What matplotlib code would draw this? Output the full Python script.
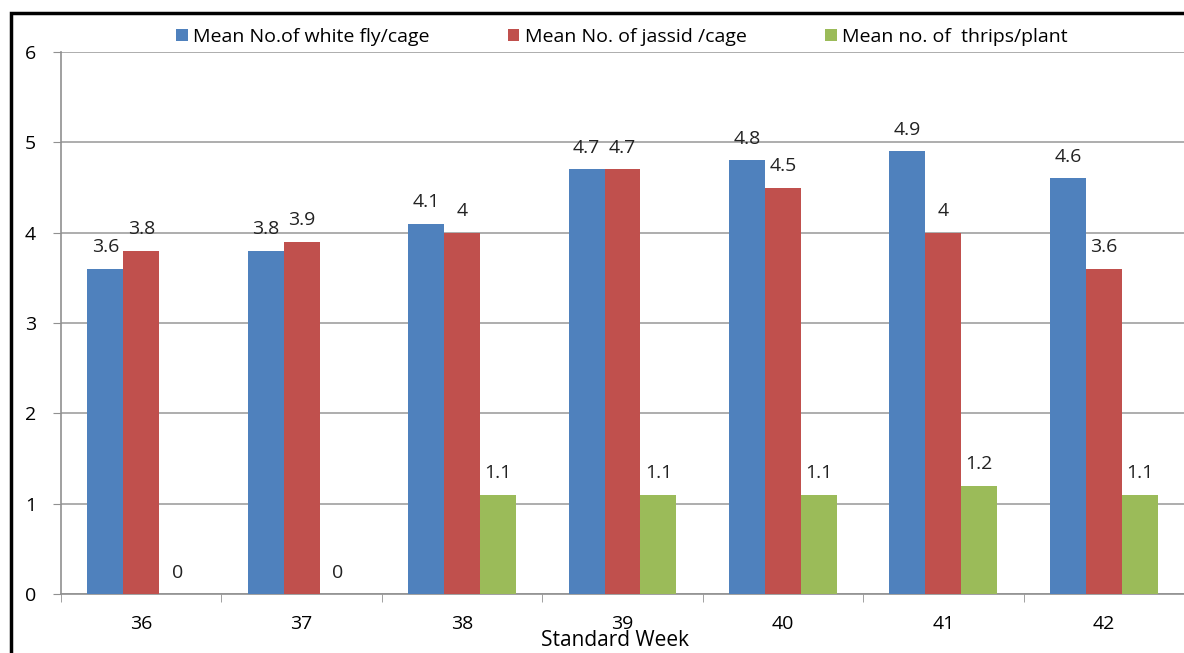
import matplotlib.pyplot as plt
import numpy as np
from matplotlib.patches import Rectangle

plt.rcParams['font.family'] = ['Open Sans', 'DejaVu Sans']

weeks = ['36', '37', '38', '39', '40', '41', '42']
white_fly = [3.6, 3.8, 4.1, 4.7, 4.8, 4.9, 4.6]
jassid = [3.8, 3.9, 4.0, 4.7, 4.5, 4.0, 3.6]
thrips = [0, 0, 1.1, 1.1, 1.1, 1.2, 1.1]

labels = ['Mean No.of white fly/cage', 'Mean No. of jassid /cage', 'Mean no. of  thrips/plant']
colors = ['#4F81BD', '#C0504D', '#9BBB59']

fig = plt.figure(figsize=(11.84, 6.53), dpi=100)
ax = fig.add_axes([61 / 1184, 59 / 653, 1123 / 1184, 542 / 653])

x = np.arange(len(weeks))
w = 0.224
series = [white_fly, jassid, thrips]
handles = []
for i, (vals, c, lab) in enumerate(zip(series, colors, labels)):
    pos = x + (i - 1) * w
    b = ax.bar(pos, vals, width=w, color=c, label=lab, zorder=3)
    handles.append(b)
    for px, v in zip(pos, vals):
        ax.annotate(f'{v:g}', (px, v), xytext=(0, 9), textcoords='offset points',
                    ha='center', va='bottom', fontsize=14, color='#222222')

ax.set_xlim(-0.5, len(weeks) - 0.5)
ax.set_ylim(0, 6)
ax.set_yticks(range(7))
ax.yaxis.grid(True, color='#a0a0a0', linewidth=1.2, zorder=0)
ax.set_axisbelow(True)

ax.set_xticks(x)
ax.set_xticklabels(weeks, fontsize=14)
ax.set_xticks(np.arange(-0.5, len(weeks)), minor=True)
ax.tick_params(axis='x', which='major', length=0, pad=15)
ax.tick_params(axis='x', which='minor', length=6, color='#909090', direction='out')
ax.tick_params(axis='y', length=6, color='#909090', pad=12, labelsize=14)

for s in ['top', 'right']:
    ax.spines[s].set_visible(False)
for s in ['left', 'bottom']:
    ax.spines[s].set_color('#909090')
    ax.spines[s].set_linewidth(1.2)

ax.set_xlabel('Standard Week', fontsize=15)
ax.xaxis.set_label_coords(0.493, -0.066)

fig.legend(handles=handles, labels=labels, loc='center', bbox_to_anchor=(622 / 1184, 1 - 37 / 653),
           ncol=3, frameon=False, fontsize=14, handlelength=0.6, handleheight=0.6,
           handletextpad=0.3, columnspacing=4.0)

fig.patches.append(Rectangle((11 / 1184, -0.1), 1.2, 1 - 13 / 653 + 0.1, transform=fig.transFigure,
                             fill=False, edgecolor='black', linewidth=2.5))

fig.savefig('out.png', dpi=100)
